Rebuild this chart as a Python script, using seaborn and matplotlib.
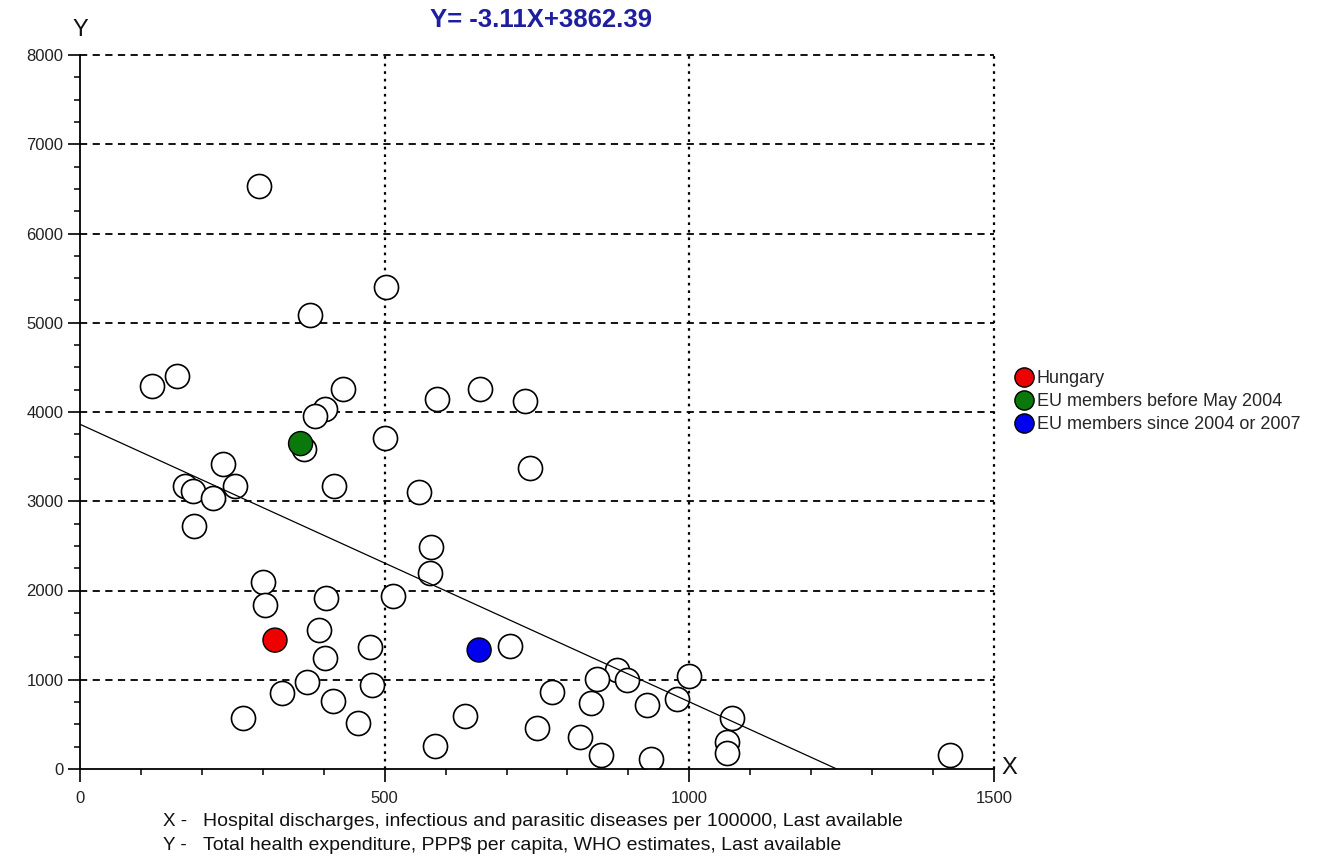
import numpy as np
import pandas as pd
import matplotlib
matplotlib.use("Agg")
import matplotlib.pyplot as plt
import seaborn as sns
from matplotlib.ticker import MultipleLocator

# ---------------- data ----------------
other_x = [293, 503, 377, 118, 159, 432, 402, 385, 586, 367, 500, 235, 172, 186, 219,
           254, 417, 556, 187, 576, 575, 300, 304, 404, 513, 393, 476, 402, 373, 480,
           332, 415, 268, 456, 705, 632, 582, 774, 750, 881, 849, 897, 1000, 838, 930,
           979, 1070, 820, 855, 937, 1062, 1062, 1428, 657, 730, 739]
other_y = [6532, 5400, 5087, 4287, 4407, 4257, 4034, 3951, 4146, 3590, 3709, 3418, 3168, 3112, 3037,
           3175, 3168, 3101, 2720, 2489, 2200, 2100, 1833, 1920, 1940, 1556, 1370, 1241, 974, 944,
           852, 759, 574, 519, 1381, 593, 259, 865, 460, 1112, 1007, 1000, 1045, 739, 720,
           784, 571, 358, 160, 112, 299, 179, 160, 4258, 4126, 3370]

hl_labels = ["Hungary", "EU members before May 2004", "EU members since 2004 or 2007"]
hl_x = [320, 362, 655]
hl_y = [1444, 3646, 1333]
hl_colors = ["#ee0000", "#0a780a", "#0000ee"]

slope = -3.11
intercept = 3862.39
title_text = "Y= -3.11X+3862.39"
x_ticks = [0, 500, 1000, 1500]
y_ticks = [0, 1000, 2000, 3000, 4000, 5000, 6000, 7000, 8000]
x_caption = "Hospital discharges, infectious and parasitic diseases per 100000, Last available"
y_caption = "Total health expenditure, PPP$ per capita, WHO estimates, Last available"

# ---------------- style ----------------
sns.set_theme(style="white")
plt.rcParams["font.family"] = ["Liberation Sans", "DejaVu Sans"]

W, H = 1330, 856
fig = plt.figure(figsize=(W / 100, H / 100), dpi=100)
fig.patch.set_facecolor("white")
ax = fig.add_axes([80 / W, 87 / H, 914 / W, 714 / H])
ax.set_facecolor("white")

ax.set_xlim(x_ticks[0], x_ticks[-1])
ax.set_ylim(y_ticks[0], y_ticks[-1])

# grid
for yv in y_ticks[1:]:
    ax.axhline(yv, color="black", lw=1.3, ls=(0, (4, 3)), zorder=1, clip_on=False)
for xv in x_ticks[1:]:
    ax.axvline(xv, color="black", lw=1.6, ls=(0, (1.2, 2.2)), zorder=1, clip_on=False)

# points
df_other = pd.DataFrame({"x": other_x, "y": other_y})
sns.scatterplot(data=df_other, x="x", y="y", ax=ax, s=300, color="white",
                edgecolor="black", linewidth=1.2, zorder=3, legend=False)

df_hl = pd.DataFrame({"x": hl_x, "y": hl_y, "group": hl_labels})
sns.scatterplot(data=df_hl, x="x", y="y", hue="group", hue_order=hl_labels,
                palette=dict(zip(hl_labels, hl_colors)), ax=ax, s=300,
                edgecolor="black", linewidth=1.0, zorder=4, legend=True)

# regression line
xs = np.array([0.0, -intercept / slope])
sns.lineplot(x=xs, y=slope * xs + intercept, ax=ax, color="black", lw=0.9, zorder=5)

# spines / ticks
for s in ["top", "right"]:
    ax.spines[s].set_visible(False)
for s in ["left", "bottom"]:
    ax.spines[s].set_color("black")
    ax.spines[s].set_linewidth(1.3)
    ax.spines[s].set_zorder(6)

ax.set_xticks(x_ticks)
ax.set_yticks(y_ticks)
ax.xaxis.set_minor_locator(MultipleLocator(100))
ax.yaxis.set_minor_locator(MultipleLocator(250))
ax.tick_params(which="major", direction="out", length=9, width=1.2, color="black",
               labelsize=12, labelcolor="#222222", pad=3,
               bottom=True, left=True)
ax.tick_params(which="minor", direction="out", length=4.5, width=1.1, color="black",
               bottom=True, left=True)
ax.tick_params(axis="x", which="major", pad=7)
ax.set_xlabel("")
ax.set_ylabel("")

# legend
handles, labels = ax.get_legend_handles_labels()
ax.legend(handles, labels, loc="upper left", bbox_to_anchor=(1006 / W, 1 - 363 / H),
          bbox_transform=fig.transFigure, frameon=False, fontsize=13,
          markerscale=0.8, handletextpad=0.1, labelspacing=0.33,
          borderaxespad=0, handlelength=1.2)

# texts
fig.text(541 / W, 1 - 20 / H, title_text, ha="center", va="center", fontsize=18.5,
         fontweight="bold", color="#1e1ea0")
fig.text(80 / W, 1 - 30 / H, "Y", ha="center", va="center", fontsize=17, color="#111111")
fig.text(1009 / W, 1 - 768 / H, "X", ha="center", va="center", fontsize=17, color="#111111")
fig.text(163 / W, 1 - 821 / H, "X -", ha="left", va="center", fontsize=13.5, color="#111111")
fig.text(203 / W, 1 - 821 / H, x_caption, ha="left", va="center", fontsize=14, color="#111111")
fig.text(163 / W, 1 - 846 / H, "Y -", ha="left", va="center", fontsize=13.5, color="#111111")
fig.text(203 / W, 1 - 846 / H, y_caption, ha="left", va="center", fontsize=14, color="#111111")

fig.savefig("out.png", dpi=100, facecolor="white")
